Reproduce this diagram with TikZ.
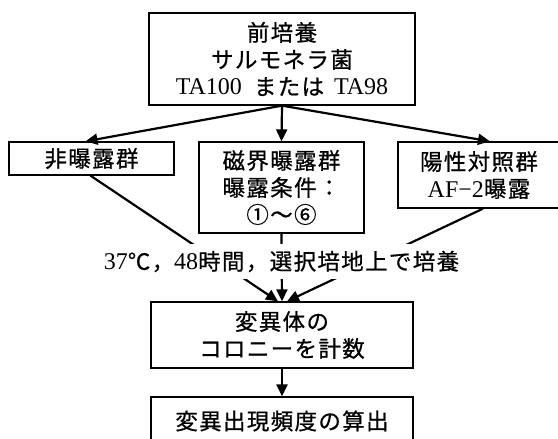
\documentclass[tikz,border=0pt]{standalone}
\usepackage{fontspec}
\setmainfont{Liberation Serif}
\newfontfamily\cjk[LetterSpace=6,FakeBold=0.7]{Noto Sans CJK JP}
\usetikzlibrary{arrows.meta,calc}
\newcommand{\J}[1]{{\cjk\fontsize{22.5}{28}\selectfont #1}}
\tikzset{
  box/.style={draw=black, line width=1.3pt, fill=white, align=center, inner sep=0pt,
    font=\fontsize{24}{28}\selectfont},
  arr/.style={line width=2.2pt, -{Triangle[length=12pt,width=11pt]}},
}
\begin{document}
\begin{tikzpicture}[x=1pt,y=-1pt]
\path[use as bounding box, clip] (0,0) rectangle (558,439);
\node[box, minimum width=266pt, minimum height=92pt] (top) at (282,59)
  {\J{前培養}\\[-1pt]\J{サルモネラ菌}\\[-1pt]TA100\hspace{12pt}\J{または}\hspace{10pt}TA98};
\node[box, minimum width=165pt, minimum height=33pt] (left) at (91.5,158.5) {\J{非曝露群}};
\node[box, minimum width=165pt, minimum height=91pt] (mid) at (281.5,187.5)
  {\J{磁界曝露群}\\[-1pt]\J{曝露条件：}\\[-1pt]\J{①〜⑥}};
\node[box, minimum width=162pt, minimum height=66pt] (right) at (479,175)
  {\J{陽性対照群}\\[-1pt]AF−2\J{曝露}};
\node[box, minimum width=262pt, minimum height=66pt] (cnt) at (282,335)
  {\J{変異体の}\\[-1pt]\J{コロニーを計数}};
\node[box, minimum width=262pt, minimum height=48pt] (calc) at (282,421)
  {\J{変異出現頻度の算出}};
% connectors
\draw[arr] (top.south) -- ($(left.north)+(-6,0)$);
\draw[arr] (top.south) -- (mid.north);
\draw[arr] (top.south) -- ($(right.north)+(11,0)$);
\draw[arr] ($(left.south)+(-1,0)$) -- ($(cnt.north)+(-4,0)$);
\draw[arr] (mid.south) -- (cnt.north);
\draw[arr] ($(right.south)+(4,0)$) -- ($(cnt.north)+(5,0)$);
\draw[arr] (cnt.south) -- (calc.north);
% label over connectors
\node[fill=white, inner xsep=2pt, minimum height=35pt, inner ysep=0pt,
  font=\fontsize{24}{28}\selectfont] (cond) at (281.5,261.5)
  {37\J{℃，}48\J{時間，選択培地上で培養}};
\end{tikzpicture}
\end{document}
